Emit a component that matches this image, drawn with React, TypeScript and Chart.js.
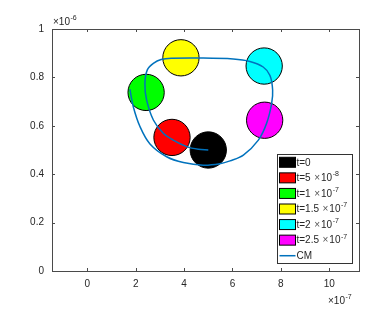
import React, { useEffect, useRef } from 'react';
import { Chart, registerables } from 'chart.js';

Chart.register(...registerables);

// units
const X_UNIT = 1e-7;
const Y_UNIT = 1e-6;

// particle snapshots (centre x in 1e-7, centre y in 1e-6)
const circleLabels = ['t=0', 't=5', 't=1', 't=1.5', 't=2', 't=2.5'];
const circleExponents = ['', '-8', '-7', '-7', '-7', '-7'];
const circleX = [5.0, 3.5, 2.43, 3.87, 7.31, 7.33];
const circleY = [0.5, 0.552, 0.738, 0.881, 0.847, 0.623];
const circleColors = ['#000000', '#ff0000', '#00ff00', '#ffff00', '#00ffff', '#ff00ff'];
const circleRadius = 0.075; // in 1e-6

// centre-of-mass trajectory
const cmX = [5.0, 4.59, 4.11, 3.55, 3.14, 2.73, 2.45, 2.38, 2.48, 2.73, 3.05, 3.5, 4.66, 6.03, 6.72, 7.27, 7.55, 7.66, 7.62, 7.41, 7.07, 6.45, 5.9, 5.48, 4.79, 3.97, 3.28, 2.59, 2.18, 1.9, 1.76];
const cmY = [0.5, 0.503, 0.514, 0.541, 0.569, 0.624, 0.707, 0.776, 0.831, 0.858, 0.874, 0.879, 0.88, 0.876, 0.866, 0.843, 0.808, 0.748, 0.693, 0.61, 0.541, 0.479, 0.455, 0.443, 0.437, 0.448, 0.472, 0.525, 0.596, 0.679, 0.751];

// axes
const xTicks = [0, 2, 4, 6, 8, 10];
const yTicks = [0, 0.2, 0.4, 0.6, 0.8, 1];
const xRange = [-1.46, 11.23];
const yRange = [0, 1];

const FONT = '"Liberation Sans", Arial, Helvetica, sans-serif';
const TEXT = '#262626';
const AXIS = '#4a4a4a';
const CM_COLOR = '#0072BD';

function drawExpLabel(ctx: CanvasRenderingContext2D, x: number, y: number, exp: string) {
  ctx.font = `10px ${FONT}`;
  ctx.textBaseline = 'middle';
  ctx.textAlign = 'left';
  ctx.fillText('\u00d710', x, y);
  const w = ctx.measureText('\u00d710').width;
  ctx.font = `7px ${FONT}`;
  ctx.fillText(exp, x + w + 0.5, y - 4);
}

const decorPlugin = {
  id: 'decor',
  afterDraw(chart: any) {
    const ctx: CanvasRenderingContext2D = chart.ctx;
    const { left, right, top, bottom } = chart.chartArea;
    const xs = chart.scales.x;
    const ys = chart.scales.y;
    ctx.save();
    // box
    ctx.strokeStyle = AXIS;
    ctx.lineWidth = 1;
    ctx.strokeRect(Math.round(left) + 0.5, Math.round(top) + 0.5, Math.round(right - left), Math.round(bottom - top));
    // inward ticks on all sides
    const tl = 3;
    ctx.beginPath();
    xTicks.forEach((v) => {
      const px = Math.round(xs.getPixelForValue(v * X_UNIT)) + 0.5;
      ctx.moveTo(px, bottom);
      ctx.lineTo(px, bottom - tl);
      ctx.moveTo(px, top);
      ctx.lineTo(px, top + tl);
    });
    yTicks.forEach((v) => {
      const py = Math.round(ys.getPixelForValue(v * Y_UNIT)) + 0.5;
      ctx.moveTo(left, py);
      ctx.lineTo(left + tl, py);
      ctx.moveTo(right, py);
      ctx.lineTo(right - tl, py);
    });
    ctx.stroke();

    // exponent labels
    ctx.fillStyle = TEXT;
    drawExpLabel(ctx, left + 1, top - 6.5, '-6');
    drawExpLabel(ctx, right - 31, bottom + 30.5, '-7');

    // legend
    const lw = 75;
    const lh = 109;
    const lx = Math.round(right - 7 - lw) + 0.5;
    const ly = Math.round(bottom - 8 - lh) + 0.5;
    ctx.fillStyle = '#ffffff';
    ctx.fillRect(lx, ly, lw, lh);
    ctx.strokeStyle = '#333333';
    ctx.lineWidth = 1;
    ctx.strokeRect(lx, ly, lw, lh);
    const rowH = lh / 7;
    for (let i = 0; i < circleLabels.length; i++) {
      const cy = ly + rowH * (i + 0.5);
      ctx.fillStyle = circleColors[i];
      ctx.fillRect(lx + 2, cy - 5, 16, 10);
      ctx.strokeStyle = '#000';
      ctx.lineWidth = 1;
      ctx.strokeRect(lx + 2, cy - 5, 16, 10);
      ctx.fillStyle = TEXT;
      ctx.font = `10px ${FONT}`;
      ctx.textBaseline = 'middle';
      ctx.textAlign = 'left';
      const tx = lx + 19;
      ctx.fillText(circleLabels[i], tx, cy + 0.5);
      if (circleExponents[i]) {
        const w1 = ctx.measureText(circleLabels[i]).width + 3.5;
        ctx.fillStyle = '#555';
        ctx.fillText('\u00d7', tx + w1, cy + 0.5);
        const w2 = ctx.measureText('\u00d7').width + 1;
        ctx.fillStyle = TEXT;
        ctx.fillText('10', tx + w1 + w2, cy + 0.5);
        const w3 = ctx.measureText('10').width + 0.5;
        ctx.font = `7px ${FONT}`;
        ctx.fillText(circleExponents[i], tx + w1 + w2 + w3, cy - 3.5);
      }
    }
    const cy = ly + rowH * 6.5;
    ctx.strokeStyle = CM_COLOR;
    ctx.lineWidth = 1.5;
    ctx.beginPath();
    ctx.moveTo(lx + 2, cy);
    ctx.lineTo(lx + 18, cy);
    ctx.stroke();
    ctx.fillStyle = TEXT;
    ctx.font = `10px ${FONT}`;
    ctx.textBaseline = 'middle';
    ctx.fillText('CM', lx + 19, cy + 0.5);
    ctx.restore();
  },
};

export default function App() {
  const ref = useRef<HTMLCanvasElement | null>(null);
  useEffect(() => {
    if (!ref.current) return;
    const radiusPx = (c: any) => {
      const ys = c.chart.scales.y;
      if (!ys) return 18;
      return Math.abs(ys.getPixelForValue(0) - ys.getPixelForValue(circleRadius * Y_UNIT));
    };
    const circleSets = circleX.map((x, i) => ({
      type: 'scatter' as const,
      label: circleLabels[i],
      data: [{ x: x * X_UNIT, y: circleY[i] * Y_UNIT }],
      backgroundColor: circleColors[i],
      borderColor: '#000000',
      borderWidth: 1,
      pointRadius: radiusPx,
      pointHoverRadius: radiusPx,
      order: 10 - i,
    }));
    const cmSet = {
      type: 'scatter' as const,
      label: 'CM',
      data: cmX.map((x, i) => ({ x: x * X_UNIT, y: cmY[i] * Y_UNIT })),
      showLine: true,
      borderColor: CM_COLOR,
      backgroundColor: CM_COLOR,
      borderWidth: 1.5,
      pointRadius: 0,
      tension: 0.35,
      order: 1,
    };
    const chart = new Chart(ref.current, {
      type: 'scatter',
      data: { datasets: [...circleSets, cmSet] as any },
      options: {
        animation: false,
        responsive: false,
        devicePixelRatio: 1,
        events: [],
        layout: { padding: { left: 0, top: 29, right: 28, bottom: 0 } },
        plugins: { legend: { display: false }, tooltip: { enabled: false } },
        scales: {
          x: {
            type: 'linear',
            min: xRange[0] * X_UNIT,
            max: xRange[1] * X_UNIT,
            grid: { display: false, drawTicks: false },
            border: { display: false },
            afterBuildTicks: (s: any) => {
              s.ticks = xTicks.map((v) => ({ value: v * X_UNIT }));
            },
            afterFit: (s: any) => {
              s.height = 41;
            },
            ticks: {
              color: TEXT,
              font: { family: FONT, size: 10 },
              padding: 7,
              maxRotation: 0,
              callback: (v: any) => String(Math.round((v as number) / X_UNIT)),
            },
          },
          y: {
            type: 'linear',
            min: yRange[0] * Y_UNIT,
            max: yRange[1] * Y_UNIT,
            grid: { display: false, drawTicks: false },
            border: { display: false },
            afterBuildTicks: (s: any) => {
              s.ticks = yTicks.map((v) => ({ value: v * Y_UNIT }));
            },
            afterFit: (s: any) => {
              s.width = 52;
            },
            ticks: {
              color: TEXT,
              font: { family: FONT, size: 10 },
              padding: 8,
              callback: (v: any) => {
                const n = Math.round(((v as number) / Y_UNIT) * 10) / 10;
                return String(n);
              },
            },
          },
        },
      },
      plugins: [decorPlugin],
    });
    return () => chart.destroy();
  }, []);
  return (
    <div style={{ position: 'absolute', left: 0, top: 0, width: 387, height: 312, background: '#fff' }}>
      <canvas ref={ref} width={387} height={312} style={{ width: 387, height: 312 }} />
    </div>
  );
}
